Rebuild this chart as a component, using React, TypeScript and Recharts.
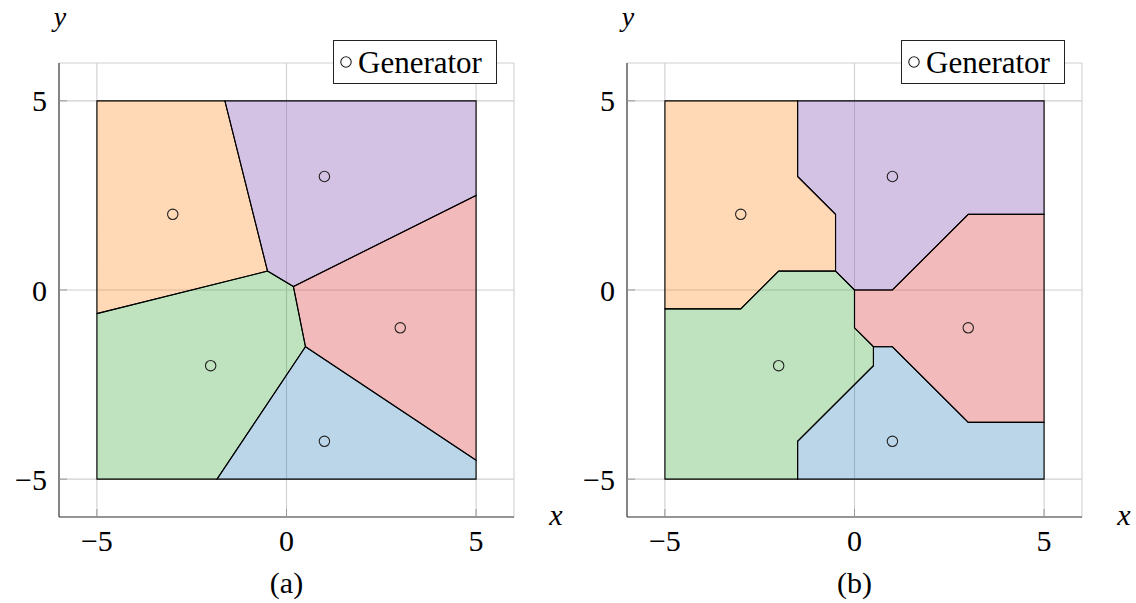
import React from 'react';
import {
  ScatterChart,
  Scatter,
  XAxis,
  YAxis,
  CartesianGrid,
  Legend,
  Label,
} from 'recharts';

type Pt = [number, number];

// generator sites, one per cell
const siteX = [-3, 1, 3, -2, 1];
const siteY = [2, 3, -1, -2, -4];
const cellColors = ['#ff7f0e', '#9467bd', '#d62728', '#2ca02c', '#1f77b4'];
const cellOpacity = [0.3, 0.4, 0.32, 0.3, 0.3];
const axisTicks = [-5, 0, 5];

// (a) Euclidean cells, clipped to [-5, 5]^2
const euclidOrange: Pt[] = [[-5, 5], [-1.625, 5], [-0.5, 0.5], [-5, -0.625]];
const euclidPurple: Pt[] = [[-1.625, 5], [5, 5], [5, 2.5], [0.182, 0.091], [-0.5, 0.5]];
const euclidRed: Pt[] = [[5, 2.5], [5, -4.5], [0.5, -1.5], [0.182, 0.091]];
const euclidGreen: Pt[] = [[-5, -0.625], [-0.5, 0.5], [0.182, 0.091], [0.5, -1.5], [-1.833, -5], [-5, -5]];
const euclidBlue: Pt[] = [[0.5, -1.5], [5, -4.5], [5, -5], [-1.833, -5]];

// (b) Manhattan cells
const manhattanOrange: Pt[] = [[-5, 5], [-1.5, 5], [-1.5, 3], [-0.5, 2], [-0.5, 0.5], [-2, 0.5], [-3, -0.5], [-5, -0.5]];
const manhattanPurple: Pt[] = [[-1.5, 5], [5, 5], [5, 2], [3, 2], [1, 0], [0, 0], [-0.5, 0.5], [-0.5, 2], [-1.5, 3]];
const manhattanRed: Pt[] = [[5, 2], [5, -3.5], [3, -3.5], [1, -1.5], [0.5, -1.5], [0, -1], [0, 0], [1, 0], [3, 2]];
const manhattanGreen: Pt[] = [[-5, -0.5], [-3, -0.5], [-2, 0.5], [-0.5, 0.5], [0, 0], [0, -1], [0.5, -1.5], [0.5, -2], [-1.5, -4], [-1.5, -5], [-5, -5]];
const manhattanBlue: Pt[] = [[-1.5, -5], [-1.5, -4], [0.5, -2], [0.5, -1.5], [1, -1.5], [3, -3.5], [5, -3.5], [5, -5]];

const euclidCells = [euclidOrange, euclidPurple, euclidRed, euclidGreen, euclidBlue];
const manhattanCells = [manhattanOrange, manhattanPurple, manhattanRed, manhattanGreen, manhattanBlue];

const FONT = 'Liberation Serif';
const W = 566;
const H = 603;

const sites = siteX.map((x, i) => ({ x, y: siteY[i] }));

const fmt = (v: number) => (v < 0 ? `\u2212${-v}` : `${v}`);

// the scatter "line" closes into a filled polygon
const cellPolygon = (i: number) => (props: any) => {
  const pts = (props.points || []) as { x: number; y: number }[];
  const d = pts.map((p, k) => `${k ? 'L' : 'M'}${p.x},${p.y}`).join('') + 'Z';
  return (
    <path
      d={d}
      fill={cellColors[i]}
      fillOpacity={cellOpacity[i]}
      stroke="#000"
      strokeWidth={1.1}
      strokeLinejoin="miter"
    />
  );
};

const noDot = () => <g />;

const siteDot = (p: any) => (
  <circle cx={p.cx} cy={p.cy} r={5.2} fill="none" stroke="#222" strokeWidth={1.1} />
);

const legendBox = () => (
  <div
    style={{
      width: 164,
      height: 44,
      boxSizing: 'border-box',
      border: '1px solid #222',
      background: '#fff',
      display: 'flex',
      alignItems: 'center',
      fontFamily: FONT,
      fontSize: 31,
      color: '#000',
    }}
  >
    <svg width={24} height={20} style={{ flex: 'none' }}>
      <circle cx={12} cy={10} r={5.2} fill="none" stroke="#222" strokeWidth={1.1} />
    </svg>
    <span style={{ lineHeight: '44px', marginTop: 2 }}>Generator</span>
  </div>
);

function VoronoiPanel({ cells, caption, left }: { cells: Pt[][]; caption: string; left: number }) {
  const tickStyle = { fontFamily: FONT, fontSize: 30, fill: '#000' };
  return (
    <div style={{ position: 'absolute', left, top: 0, width: W, height: H }}>
      <ScatterChart width={W} height={H} margin={{ top: 63, right: W - 514, bottom: 0, left: 0 }}>
        <CartesianGrid stroke="#cfcfcf" strokeWidth={1.1} />
        <XAxis
          type="number"
          dataKey="x"
          domain={[-6, 6]}
          ticks={axisTicks}
          allowDataOverflow
          height={86}
          tickFormatter={fmt}
          tick={tickStyle}
          tickSize={-8}
          tickMargin={21}
          tickLine={{ stroke: '#999' }}
          axisLine={{ stroke: '#444', strokeWidth: 1.2 }}
        >
          <Label
            content={(p: any) => (
              <text
                x={p.viewBox.x + p.viewBox.width + 42}
                y={p.viewBox.y + 8}
                textAnchor="middle"
                fontFamily={FONT}
                fontStyle="italic"
                fontSize={30}
              >
                x
              </text>
            )}
          />
          <Label
            content={(p: any) => (
              <text
                x={p.viewBox.x + p.viewBox.width / 2}
                y={p.viewBox.y + 76}
                textAnchor="middle"
                fontFamily={FONT}
                fontSize={30}
              >
                {caption}
              </text>
            )}
          />
        </XAxis>
        <YAxis
          type="number"
          dataKey="y"
          domain={[-6, 6]}
          ticks={axisTicks}
          allowDataOverflow
          width={59}
          tickFormatter={fmt}
          tick={tickStyle}
          tickSize={-8}
          tickMargin={20}
          tickLine={{ stroke: '#999' }}
          axisLine={{ stroke: '#444', strokeWidth: 1.2 }}
        >
          <Label
            content={(p: any) => (
              <text
                x={p.viewBox.x + p.viewBox.width + 1}
                y={p.viewBox.y - 37}
                textAnchor="middle"
                fontFamily={FONT}
                fontStyle="italic"
                fontSize={28}
              >
                y
              </text>
            )}
          />
        </YAxis>
        {cells.map((cell, i) => (
          <Scatter
            key={i}
            data={cell.map(([x, y]) => ({ x, y }))}
            line={cellPolygon(i)}
            lineType="joint"
            shape={noDot}
            legendType="none"
            isAnimationActive={false}
          />
        ))}
        <Scatter name="Generator" data={sites} shape={siteDot} isAnimationActive={false} />
        <Legend
          layout="horizontal"
          verticalAlign="middle"
          align="center"
          content={legendBox}
          wrapperStyle={{ left: 333, top: 40, width: 164, height: 44 }}
        />
      </ScatterChart>
    </div>
  );
}

export default function App() {
  return (
    <div style={{ position: 'absolute', left: 0, top: 0, width: 1136, height: 603, background: '#fff' }}>
      <VoronoiPanel cells={euclidCells} caption="(a)" left={0} />
      <VoronoiPanel cells={manhattanCells} caption="(b)" left={568} />
    </div>
  );
}
